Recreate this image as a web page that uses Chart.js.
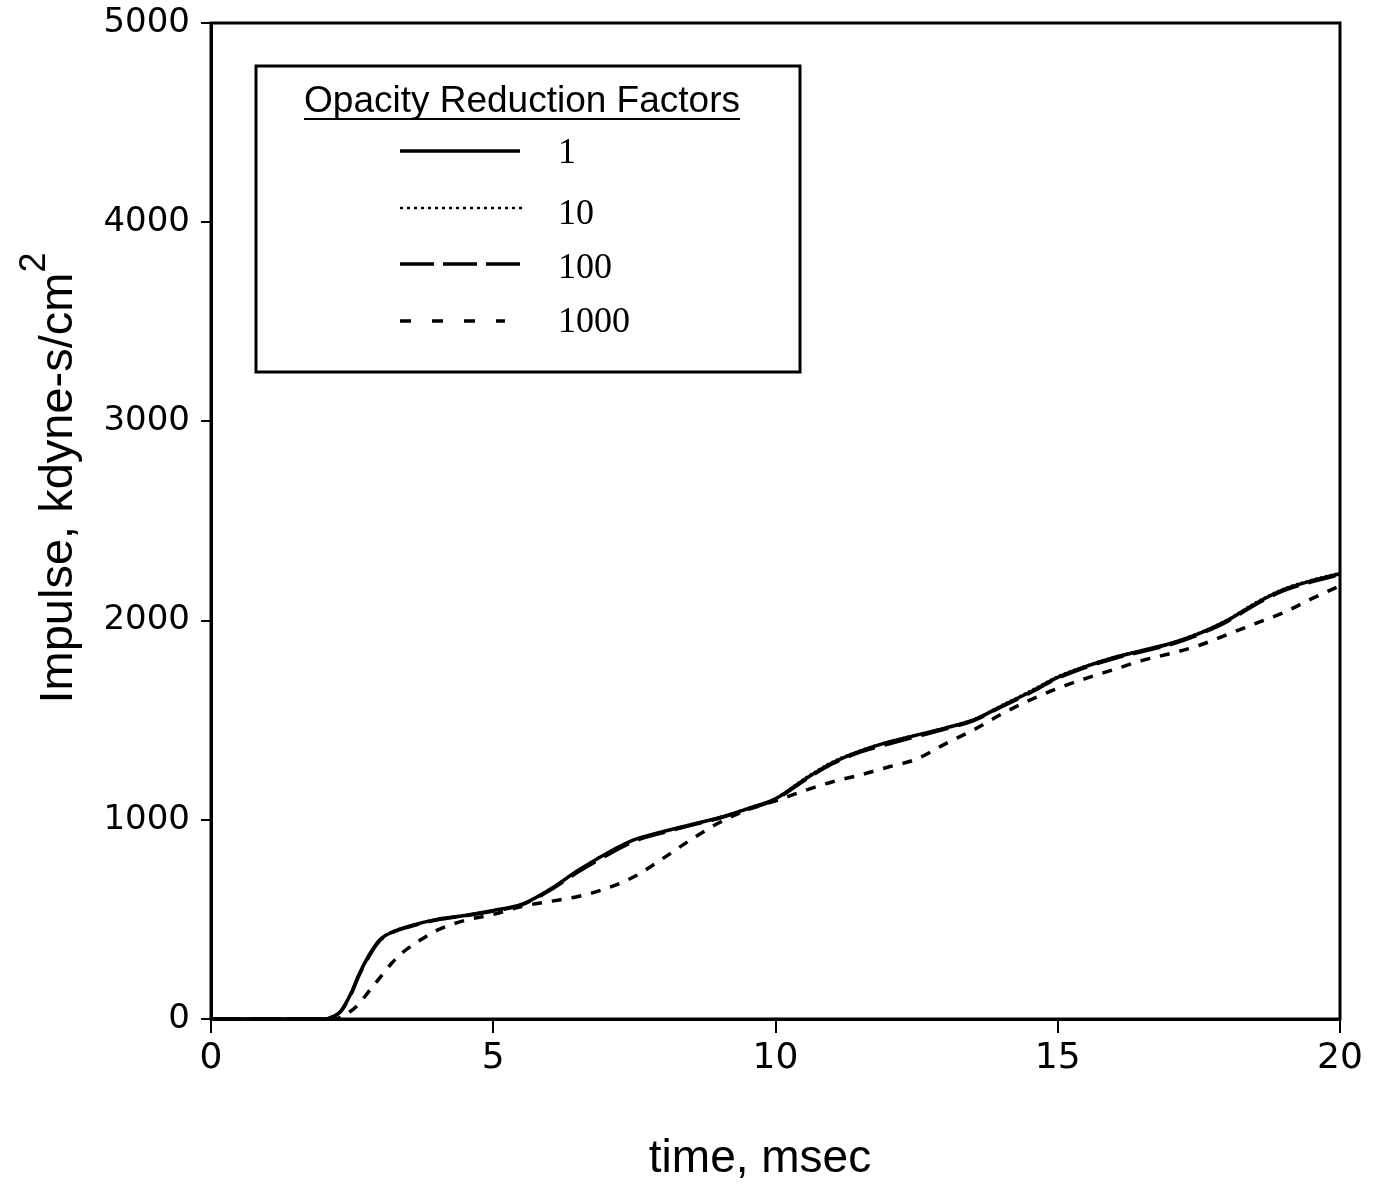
<!DOCTYPE html>
<html>
<head>
<meta charset="utf-8">
<script src="https://cdn.jsdelivr.net/npm/chart.js@4.4.1/dist/chart.umd.min.js"></script>
<style>
  body { margin: 0; background: #fff; }
  #wrap { width: 1377px; height: 1186px; }
</style>
</head>
<body>
<div id="wrap"><canvas id="chart" width="1377" height="1186"></canvas></div>
<script>
// --- data ---
const seriesLabels = ['1', '10', '100', '1000'];

const timeMain = [0, 2.0, 2.1, 2.3, 2.5, 2.6, 2.8, 3.0, 3.2, 3.5, 4.0, 4.5, 5.0, 5.5, 6.0, 6.5, 7.0, 7.5, 8.0, 8.5, 9.0, 9.5, 10.0,
                  10.5, 11.0, 11.5, 12.0, 12.5, 13.0, 13.5, 14.0, 14.5, 15.0, 15.5, 16.0, 16.5, 17.0, 17.5, 18.0, 18.5, 19.0, 19.5, 20.0];
const impulse1 = [0, 0, 5, 40, 140, 210, 320, 400, 435, 465, 500, 520, 545, 575, 650, 745, 830, 900, 940, 975, 1010, 1055, 1105,
                  1200, 1285, 1345, 1390, 1425, 1460, 1500, 1570, 1640, 1715, 1770, 1815, 1850, 1885, 1935, 2000, 2085, 2155, 2200, 2235];
const impulse10 = [0, 0, 5, 42, 142, 212, 322, 402, 437, 466, 501, 521, 546, 576, 652, 746, 831, 901, 941, 977, 1012, 1058, 1108,
                   1205, 1290, 1348, 1392, 1427, 1462, 1503, 1574, 1645, 1720, 1773, 1817, 1852, 1888, 1938, 2004, 2090, 2160, 2204, 2240];
const impulse100 = [0, 0, 4, 38, 136, 205, 315, 396, 432, 462, 497, 518, 542, 573, 645, 738, 820, 892, 935, 972, 1008, 1052, 1102,
                    1195, 1280, 1340, 1380, 1418, 1455, 1497, 1566, 1636, 1710, 1765, 1810, 1845, 1880, 1930, 1995, 2080, 2150, 2195, 2230];

const time1000 = [0, 2.2, 2.4, 2.6, 2.8, 3.0, 3.2, 3.4, 3.7, 4.0, 4.5, 5.0, 5.5, 6.0, 6.5, 7.0, 7.5, 8.0, 8.5, 9.0, 9.5, 10.0,
                  10.5, 11.0, 11.5, 12.0, 12.5, 13.0, 13.5, 14.0, 14.5, 15.0, 15.5, 16.0, 16.5, 17.0, 17.5, 18.0, 18.5, 19.0, 19.5, 20.0];
const impulse1000 = [0, 0, 25, 70, 140, 210, 280, 335, 395, 445, 495, 525, 565, 590, 615, 655, 715, 805, 900, 985, 1050, 1095,
                     1145, 1190, 1225, 1265, 1305, 1380, 1450, 1530, 1600, 1660, 1710, 1755, 1800, 1835, 1875, 1930, 1985, 2040, 2110, 2175];

const xTicks = [0, 5, 10, 15, 20];
const yTicks = [0, 1000, 2000, 3000, 4000, 5000];

function pts(xs, ys) { return xs.map((x, i) => ({ x: x, y: ys[i] })); }

// --- frame, axis titles and boxed legend ---
const extras = {
  id: 'extras',
  afterDraw(chart) {
    const ctx = chart.ctx;
    const a = chart.chartArea;
    ctx.save();
    ctx.strokeStyle = '#000';
    ctx.lineWidth = 3;
    ctx.strokeRect(a.left, a.top, a.right - a.left, a.bottom - a.top);

    // x title
    ctx.fillStyle = '#000';
    ctx.font = '46px "Liberation Sans", Arial, sans-serif';
    ctx.textAlign = 'center';
    ctx.textBaseline = 'alphabetic';
    ctx.fillText('time, msec', 760, 1172);

    // y title with superscript
    ctx.save();
    ctx.translate(72, 478);
    ctx.rotate(-Math.PI / 2);
    const main = 'Impulse, kdyne-s/cm';
    ctx.font = '47px "Liberation Sans", Arial, sans-serif';
    const w1 = ctx.measureText(main).width;
    ctx.font = '36px "Liberation Sans", Arial, sans-serif';
    const w2 = ctx.measureText('2').width;
    const x0 = -(w1 + w2) / 2;
    ctx.textAlign = 'left';
    ctx.font = '47px "Liberation Sans", Arial, sans-serif';
    ctx.fillText(main, x0, 0);
    ctx.font = '36px "Liberation Sans", Arial, sans-serif';
    ctx.fillText('2', x0 + w1, -27);
    ctx.restore();

    // legend box
    ctx.lineWidth = 3;
    ctx.strokeRect(256, 66, 544, 306);
    ctx.font = '37px "Liberation Sans", Arial, sans-serif';
    ctx.textAlign = 'center';
    ctx.fillText('Opacity Reduction Factors', 522, 112);
    const tw = ctx.measureText('Opacity Reduction Factors').width;
    ctx.lineWidth = 2;
    ctx.beginPath();
    ctx.moveTo(522 - tw / 2, 119);
    ctx.lineTo(522 + tw / 2, 119);
    ctx.stroke();

    const rows = [151, 208, 264, 321];
    const textY = [163, 224, 278, 332];
    const ends = [520, 522, 520, 505];
    chart.data.datasets.forEach((ds, i) => {
      ctx.save();
      ctx.lineWidth = ds.borderWidth;
      ctx.setLineDash(ds.legendDash || ds.borderDash || []);
      ctx.beginPath();
      ctx.moveTo(400, rows[i]);
      ctx.lineTo(ends[i], rows[i]);
      ctx.stroke();
      ctx.restore();
      ctx.font = '36px "Liberation Serif", "Times New Roman", serif';
      ctx.textAlign = 'left';
      ctx.fillText(ds.label, 558, textY[i]);
    });
    ctx.restore();
  }
};

const yTickFont = { family: '"DejaVu Sans", sans-serif', size: 34, lineHeight: 1 };
const xTickFont = { family: '"DejaVu Sans", sans-serif', size: 36, lineHeight: 1 };

new Chart(document.getElementById('chart'), {
  type: 'line',
  data: {
    datasets: [
      { label: seriesLabels[0], data: pts(timeMain, impulse1), borderColor: '#000', borderWidth: 3.5, borderDash: [] },
      { label: seriesLabels[1], data: pts(timeMain, impulse10), borderColor: '#000', borderWidth: 2.5, borderDash: [2, 3], legendDash: [3, 4] },
      { label: seriesLabels[2], data: pts(timeMain, impulse100), borderColor: '#000', borderWidth: 3.5, borderDash: [28, 10], legendDash: [34, 9] },
      { label: seriesLabels[3], data: pts(time1000, impulse1000), borderColor: '#000', borderWidth: 3.5, borderDash: [10, 10], legendDash: [11, 21] }
    ]
  },
  options: {
    responsive: false,
    animation: false,
    events: [],
    layout: { padding: { top: 23, right: 37, left: 0, bottom: 0 } },
    elements: {
      point: { radius: 0 },
      line: { cubicInterpolationMode: 'monotone', fill: false, borderCapStyle: 'butt' }
    },
    plugins: { legend: { display: false }, tooltip: { enabled: false } },
    scales: {
      x: {
        type: 'linear',
        min: 0, max: 20,
        afterFit(s) { s.height = 167; s.paddingLeft = 0; s.paddingRight = 0; },
        afterBuildTicks(s) { s.ticks = xTicks.map(v => ({ value: v })); },
        grid: { drawOnChartArea: false, drawTicks: true, tickLength: 14, color: '#000', lineWidth: 2 },
        border: { color: '#000', width: 3 },
        ticks: { color: '#000', font: xTickFont, padding: 8, maxRotation: 0, callback: v => String(v) }
      },
      y: {
        type: 'linear',
        min: 0, max: 5000,
        afterFit(s) { s.width = 211; s.paddingTop = 0; s.paddingBottom = 0; },
        afterBuildTicks(s) { s.ticks = yTicks.map(v => ({ value: v })); },
        grid: { drawOnChartArea: false, drawTicks: true, tickLength: 10, color: '#000', lineWidth: 2 },
        border: { color: '#000', width: 3 },
        ticks: { color: '#000', font: yTickFont, padding: 11, callback: v => String(v) }
      }
    }
  },
  plugins: [extras]
});
</script>
</body>
</html>
